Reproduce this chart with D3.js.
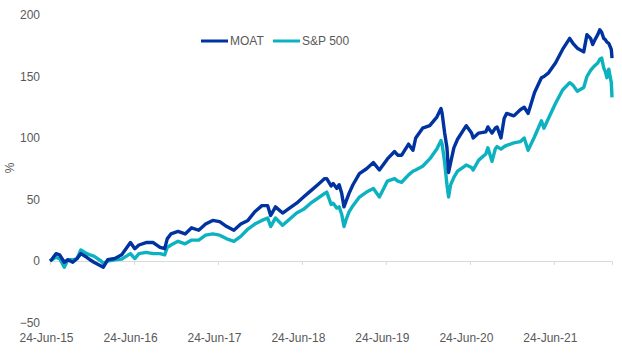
<!DOCTYPE html>
<html><head><meta charset="utf-8">
<script src="https://cdn.jsdelivr.net/npm/d3@7"></script>
<style>
html,body{margin:0;padding:0;background:#fff;}
svg{display:block;font-family:"Liberation Sans",Arial,sans-serif;}
</style></head>
<body><svg id="chart" width="622" height="356"></svg>
<script>
const dates = ["2015-06-24","2015-07-01","2015-07-20","2015-08-05","2015-08-25","2015-09-10","2015-10-01","2015-10-20","2015-11-05","2015-12-01","2015-12-15",
"2016-01-01","2016-02-01","2016-02-11","2016-03-01","2016-04-01","2016-05-01","2016-06-08","2016-06-27","2016-07-15","2016-08-15","2016-09-15","2016-10-15","2016-11-04","2016-11-15","2016-12-01",
"2017-01-01","2017-02-01","2017-03-01","2017-04-01","2017-05-01","2017-06-01","2017-07-01","2017-08-01","2017-09-01","2017-10-01","2017-11-01","2017-12-01",
"2018-01-01","2018-01-26","2018-02-08","2018-03-01","2018-04-01","2018-05-01","2018-06-01","2018-07-01","2018-08-01","2018-09-01","2018-10-01","2018-10-10","2018-10-29","2018-11-07","2018-11-23","2018-12-03","2018-12-14","2018-12-24",
"2019-01-01","2019-01-15","2019-02-01","2019-03-01","2019-04-01","2019-05-01","2019-05-27","2019-07-01","2019-08-01","2019-08-15","2019-09-01","2019-10-01","2019-10-20","2019-11-01","2019-12-01",
"2020-01-01","2020-02-01","2020-02-19","2020-02-24","2020-03-06","2020-03-16","2020-03-23","2020-04-01","2020-04-15","2020-05-01","2020-06-08","2020-07-01","2020-07-08","2020-08-01","2020-09-01","2020-09-10","2020-09-28","2020-10-12","2020-10-20","2020-11-06","2020-11-20","2020-12-01",
"2021-01-01","2021-01-29","2021-02-15","2021-03-04","2021-04-01","2021-05-01","2021-05-12","2021-06-01","2021-07-01","2021-08-01","2021-09-01","2021-09-15","2021-10-04","2021-11-01","2021-11-15","2021-12-01","2021-12-10","2021-12-20",
"2022-01-01","2022-01-10","2022-01-18","2022-01-27","2022-02-03","2022-02-10","2022-02-18","2022-03-01","2022-03-04"];

const moat = [0,1,6,5,-1,1,-1,2,6,3,1,
-1,-4,-5,1,2,5,15,10,13,15,15,11,10,18,22,
24,22,27,25,30,33,32,28,25,30,33,40,
45,45,37,44,39,43,47,52,57,62,67,67,61,63,59,62,55,44,
48,55,62,71,75,80,74,83,89,86,86,95,90,100,108,
110,117,124,120,104,92,72,80,92,99,110,104,100,104,105,109,104,108,109,100,116,120,
118,123,125,120,137,149,150,153,161,172,181,177,173,170,184,181,176,180,
184,188,186,181,180,178,177,172,165];

const sp500 = [0,1,3,2,-5,1,1,2,9,6,5,
4,0,-2,0,1,1.5,6,2,6,7,6,6,5,11,13,
16,14,17,17,21,22,21,18,16,20,26,30,
33,35,28,35,29,34,39,42,47,51,55,56,46,47,43,44,38,28,
33,40,45,52,56,59,52,65,67,65,64,70,73,74,77,
83,91,98,95,80,62,52,62,68,73,78,76,74,82,87,92,81,91,93,91,93,94,
96,97,100,90,101,114,108,116,128,139,145,143,138,141,150,155,157,159,
161,164,165,157,154,149,156,145,133];

const seriesNames = ["MOAT", "S&P 500"];
const seriesColors = ["#0033A0", "#0DB2C0"];
const yTicks = [-50, 0, 50, 100, 150, 200];
const xTickDates = ["2015-06-24","2016-06-24","2017-06-24","2018-06-24","2019-06-24","2020-06-24","2021-06-24"];
const yLabel = "%";

const parse = d3.utcParse("%Y-%m-%d");
const fmt = d3.utcFormat("%d-%b-%y");
const svg = d3.select("#chart");

const x = d3.scaleUtc().domain([parse(dates[0]), parse(dates[dates.length-1])]).range([50, 612]);
const y = d3.scaleLinear().domain([-50, 200]).range([322.5, 15]);

const xTicksG = svg.append("g").attr("transform", `translate(0,${y(0)})`)
  .call(d3.axisBottom(x).tickValues(xTickDates.slice(1).map(parse)).tickSize(4).tickFormat(""));
xTicksG.select(".domain").attr("stroke", "#D9D9D9").attr("stroke-width", 1);
xTicksG.selectAll(".tick line").attr("stroke", "#D9D9D9");

const xLab = svg.append("g").attr("transform", "translate(-4,333.5)")
  .call(d3.axisBottom(x).tickValues(xTickDates.map(parse)).tickSize(0).tickPadding(0).tickFormat(fmt));
xLab.select(".domain").remove();
xLab.selectAll("text").attr("fill", "#595959").style("font-size", "12px").style("font-family", "'Liberation Sans', Arial, sans-serif");

const yLab = svg.append("g").attr("transform", "translate(40,0)")
  .call(d3.axisLeft(y).tickValues(yTicks).tickSize(0).tickPadding(0));
yLab.select(".domain").remove();
yLab.selectAll("text").attr("fill", "#595959").style("font-size", "12px").style("font-family", "'Liberation Sans', Arial, sans-serif");

svg.append("text").attr("transform", "translate(14,168) rotate(-90)")
  .attr("text-anchor", "middle").attr("fill", "#595959").style("font-size", "12px").text(yLabel);

const data = dates.map((d, i) => ({date: parse(d), m: moat[i], s: sp500[i]}));
const lineM = d3.line().x(d => x(d.date)).y(d => y(d.m));
const lineS = d3.line().x(d => x(d.date)).y(d => y(d.s));

svg.append("path").datum(data).attr("d", lineS).attr("fill", "none")
  .attr("stroke", seriesColors[1]).attr("stroke-width", 3.4).attr("stroke-linejoin", "round");
svg.append("path").datum(data).attr("d", lineM).attr("fill", "none")
  .attr("stroke", seriesColors[0]).attr("stroke-width", 3.4).attr("stroke-linejoin", "round");

const legendX = [201, 273];
seriesNames.forEach((n, i) => {
  const g = svg.append("g").attr("transform", `translate(${legendX[i]},41)`);
  g.append("line").attr("x1", 0).attr("x2", 27).attr("y1", 0).attr("y2", 0)
    .attr("stroke", seriesColors[i]).attr("stroke-width", 3);
  g.append("text").attr("x", 29).attr("y", 0).attr("dy", "0.35em")
    .attr("fill", "#595959").style("font-size", "12px").text(n);
});
</script></body></html>
